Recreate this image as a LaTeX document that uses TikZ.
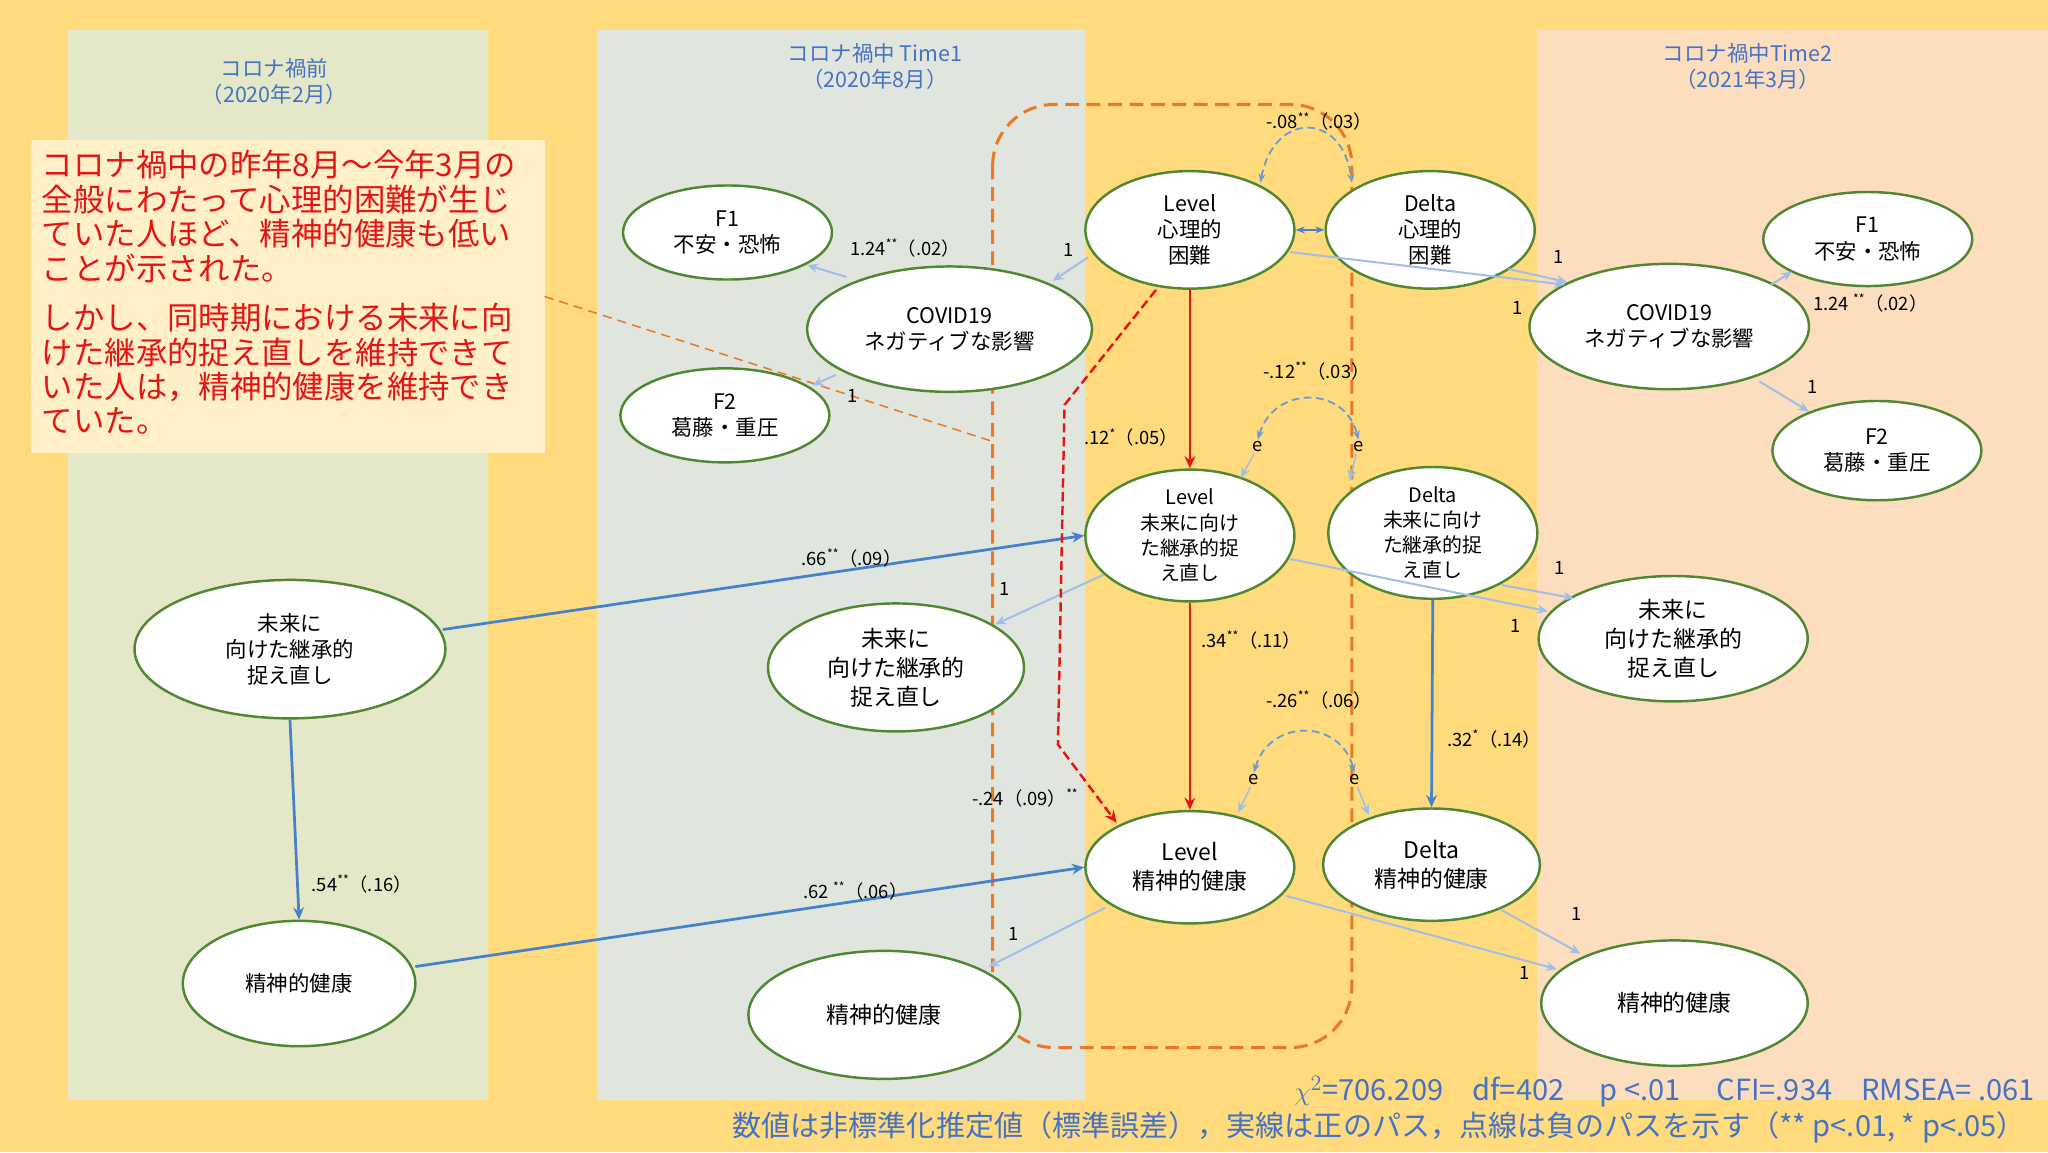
\documentclass[tikz,border=0pt]{standalone}
\usepackage{fontspec}
\setmainfont{Noto Sans CJK JP}
\usetikzlibrary{shapes.geometric,arrows.meta}
\definecolor{bg}{RGB}{255,219,125}
\definecolor{pL}{RGB}{228,232,200}
\definecolor{pM}{RGB}{224,230,222}
\definecolor{pR}{RGB}{252,222,190}
\definecolor{boxc}{RGB}{255,240,200}
\definecolor{grn}{RGB}{80,135,50}
\definecolor{lb}{RGB}{160,190,230}
\definecolor{db}{RGB}{70,130,200}
\definecolor{hb}{RGB}{68,114,196}
\definecolor{rd}{RGB}{230,20,20}
\definecolor{org}{RGB}{235,120,40}
\tikzset{
 el/.style={ellipse,draw=grn,line width=1.6pt,fill=white,inner sep=0pt,align=center,font=\fontsize{14}{17}\selectfont},
 ld/.style={lb,line width=1.3pt,-{Stealth[length=7pt,width=6pt]}},
 bd/.style={db,line width=1.8pt,-{Stealth[length=8pt,width=7pt]}},
 rdA/.style={rd,line width=1.6pt,-{Stealth[length=8pt,width=7pt]}},
 cov/.style={db!80,dash pattern=on 5pt off 3pt,line width=1.2pt,{Stealth[length=6pt]}-{Stealth[length=6pt]}},
 lbl/.style={font=\fontsize{12}{14}\selectfont,inner sep=1pt},
 hdr/.style={hb,align=center,font=\fontsize{14}{17}\selectfont}
}
\newcommand{\pt}[3]{([shift={(#2,#3)}]#1.center)}
\begin{document}
\begin{tikzpicture}[x=0.03cm,y=-0.03cm]
\fill[bg] (0,0) rectangle (1568,882);
\useasboundingbox (0,0) rectangle (1568,882);
\fill[pL] (52,23) rectangle (374,842);
\fill[pM] (457,23) rectangle (831,842);
\fill[pR] (1177,23) rectangle (1568,842);
\node[hdr] (h1) at (210,62) {コロナ禍前\\（2020年2月）};
\node[hdr] (h2) at (670,51) {コロナ禍中 Time1\\（2020年8月）};
\node[hdr] (h3) at (1338,51) {コロナ禍中Time2\\（2021年3月）};
% text box
\fill[boxc] (24,107) rectangle (417,347);
\node[rd,anchor=north west,align=left,font=\fontsize{20.5}{22.5}\selectfont] (tb) at (28,111) {コロナ禍中の昨年8月～今年3月の\\全般にわたって心理的困難が生じ\\ていた人ほど、精神的健康も低い\\ことが示された。};
\node[rd,anchor=north west,align=left,font=\fontsize{20.5}{22.5}\selectfont] (tb2) at (28,228) {しかし、同時期における未来に向\\けた継承的捉え直しを維持できて\\いた人は，精神的健康を維持でき\\ていた。};
\coordinate (tbp) at (417,227);
\coordinate (obp) at (760,338);
\draw[org,dash pattern=on 6pt off 4pt,line width=1pt] (tbp) -- (obp);
% orange box
\draw[org,dash pattern=on 9pt off 5pt,line width=2pt,rounded corners=40] (760,80) rectangle (1035,802);
% nodes
\node[el,minimum width=4.8cm,minimum height=2.16cm] (f1) at (557,178) {F1\\不安・恐怖};
\node[el,minimum width=4.8cm,minimum height=2.16cm] (f2) at (555,318) {F2\\葛藤・重圧};
\node[el,minimum width=6.54cm,minimum height=2.88cm] (cl) at (727,252) {COVID19\\ネガティブな影響};
\node[el,minimum width=4.8cm,minimum height=2.7cm] (lp) at (911,176) {Level\\心理的\\困難};
\node[el,minimum width=4.8cm,minimum height=2.7cm] (dp) at (1095,176) {Delta\\心理的\\困難};
\node[el,minimum width=4.8cm,minimum height=2.16cm] (f1r) at (1430,183) {F1\\不安・恐怖};
\node[el,minimum width=6.42cm,minimum height=2.88cm] (cr) at (1278,250) {COVID19\\ネガティブな影響};
\node[el,minimum width=4.8cm,minimum height=2.28cm] (f2r) at (1437,345) {F2\\葛藤・重圧};
\node[el,minimum width=4.8cm,minimum height=2.7cm,font=\fontsize{13}{16.5}\selectfont] (lf) at (911,410) {Level\\未来に向け\\た継承的捉\\え直し};
\node[el,minimum width=4.8cm,minimum height=2.7cm,font=\fontsize{13}{16.5}\selectfont] (df) at (1097,408) {Delta\\未来に向け\\た継承的捉\\え直し};
\node[el,minimum width=7.14cm,minimum height=3.18cm] (pf) at (222,497) {未来に\\向けた継承的\\捉え直し};
\node[el,minimum width=5.88cm,minimum height=2.94cm,font=\fontsize{15}{19}\selectfont] (mf) at (686,511) {未来に\\向けた継承的\\捉え直し};
\node[el,minimum width=6.18cm,minimum height=2.88cm,font=\fontsize{15}{19}\selectfont] (rf) at (1281,489) {未来に\\向けた継承的\\捉え直し};
\node[el,minimum width=5.34cm,minimum height=2.88cm] (pm) at (229,753) {精神的健康};
\node[el,minimum width=4.8cm,minimum height=2.58cm,font=\fontsize{15}{19}\selectfont] (lm) at (911,664) {Level\\精神的健康};
\node[el,minimum width=4.98cm,minimum height=2.58cm,font=\fontsize{15}{19}\selectfont] (dm) at (1096,662) {Delta\\精神的健康};
\node[el,minimum width=6.24cm,minimum height=2.94cm,font=\fontsize{15}{19}\selectfont] (mm) at (677,777) {精神的健康};
\node[el,minimum width=6.12cm,minimum height=2.88cm,font=\fontsize{15}{19}\selectfont] (rm) at (1282,768) {精神的健康};
% loadings
\draw[ld] \pt{lp}{-78}{21} -- \pt{cl}{79}{-37};
\draw[ld] \pt{cl}{-79}{-40} -- \pt{f1}{61}{25};
\draw[ld] \pt{cl}{-87}{35} -- \pt{f2}{67}{-23};
\draw[ld] \pt{lp}{77}{17} -- \pt{cr}{-80}{-32};
\draw[ld] \pt{dp}{60}{30} -- \pt{cr}{-78}{-34};
\draw[ld] \pt{cr}{78}{-32} -- \pt{f1r}{-58}{25};
\draw[ld] \pt{cr}{69}{42} -- \pt{f2r}{-52}{-30};
\draw[ld] \pt{lf}{-66}{30} -- \pt{mf}{76}{-33};
\draw[ld] \pt{lf}{77}{18} -- \pt{rf}{-96}{-21};
\draw[ld] \pt{df}{53}{40} -- \pt{rf}{-76}{-31};
\draw[ld] \pt{lm}{-65}{31} -- \pt{mm}{80}{-37};
\draw[ld] \pt{lm}{74}{22} -- \pt{rm}{-90}{-26};
\draw[ld] \pt{dm}{54}{35} -- \pt{rm}{-72}{-38};
\foreach \p in {(818,191),(653,303),(1193,197),(1162,236),(1388,296),(769,451),(1194,435),(1160,479),(776,715),(1207,700),(1167,745)}
  \node[lbl] at \p {1};
\node[lbl] (l1) at (693,190) {1.24\textsuperscript{**}（.02）};
\node[lbl] (l2) at (1432,232) {1.24 \textsuperscript{**}（.02）};
% blue structural
\draw[bd] \pt{pf}{117}{-15} -- (lf.west);
\draw[bd] (pf.south) -- (pm.north);
\draw[bd] \pt{pm}{89}{-13} -- (lm.west);
\draw[bd] (df.south) -- (dm.north);
\node[lbl] at (652,427) {.66\textsuperscript{**}（.09）};
\node[lbl] at (277,677) {.54\textsuperscript{**}（.16）};
\node[lbl] at (655,682) {.62 \textsuperscript{**}（.06）};
\node[lbl] at (1144,566) {.32\textsuperscript{*}（.14）};
% red
\draw[rdA] (lp.south) -- (lf.north);
\draw[rdA] (lf.south) -- (lm.north);
\draw[rd,dash pattern=on 6pt off 3pt,line width=1.6pt,-{Stealth[length=8pt,width=7pt]}] \pt{lp}{-26}{46} -- (815,310) -- (810,570) -- \pt{lm}{-56}{-34};
\node[lbl] at (866,335) {.12\textsuperscript{*}（.05）};
\node[lbl] at (958,490) {.34\textsuperscript{**}（.11）};
\node[lbl] at (785,611) {-.24（.09）\textsuperscript{**}};
% covariances
\draw[db,line width=1.3pt,{Stealth[length=6pt]}-{Stealth[length=6pt]}] (lp.east) -- (dp.west);
\draw[cov] \pt{lp}{54}{-36} .. controls (975,85) and (1028,85) .. \pt{dp}{-60}{-36};
\node[lbl] at (1010,93) {-.08\textsuperscript{**}（.03）};
\node[lbl] (e1) at (963,342) {e};
\node[lbl] (e2) at (1040,342) {e};
\node[lbl] (e3) at (960,597) {e};
\node[lbl] (e4) at (1037,597) {e};
\draw[ld,line width=1pt] (e1) -- \pt{lf}{39}{-44};
\draw[ld,line width=1pt] (e2) -- \pt{df}{-64}{-40};
\draw[ld,line width=1pt] (e3) -- \pt{lm}{37}{-42};
\draw[ld,line width=1pt] (e4) -- \pt{dm}{-48}{-38};
\draw[cov] (e1.north) .. controls (975,295) and (1030,295) .. (e2.north);
\draw[cov] (e3.north) .. controls (972,550) and (1026,550) .. (e4.north);
\node[lbl] at (1008,284) {-.12\textsuperscript{**}（.03）};
\node[lbl] at (1010,536) {-.26\textsuperscript{**}（.06）};
% bottom
\node[hb,anchor=east,font=\fontsize{19}{22}\selectfont] (b1) at (1562,836) {$\chi^2$=706.209\quad df=402\quad\ p <.01\quad\ CFI=.934\quad RMSEA= .061};
\node[hb,anchor=east,font=\fontsize{19}{22}\selectfont] (b2) at (1555,863) {数値は非標準化推定値（標準誤差），実線は正のパス，点線は負のパスを示す（** \textit{p}<.01, * \textit{p}<.05）};
\end{tikzpicture}
\end{document}
